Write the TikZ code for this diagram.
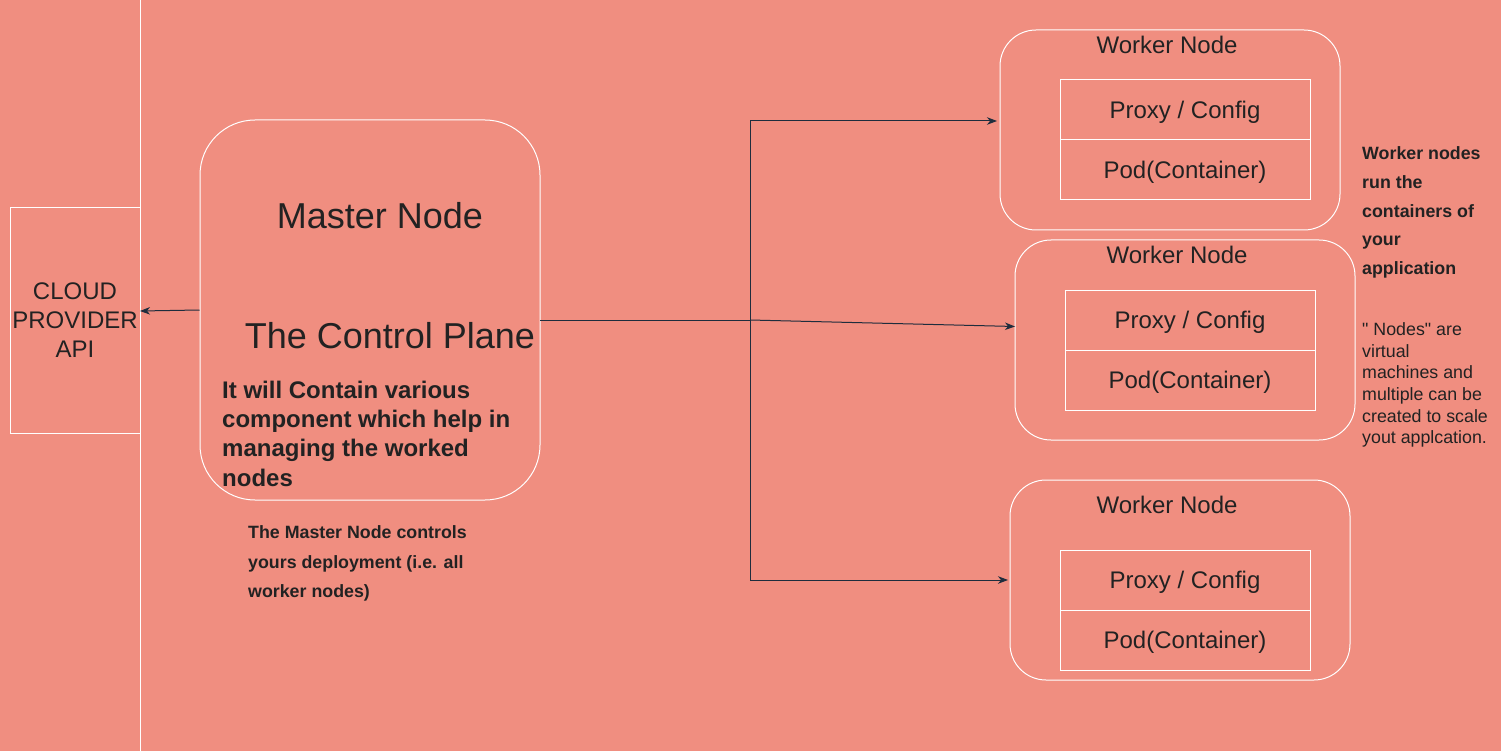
\documentclass[tikz,border=0pt]{standalone}
\usepackage{fontspec}
\setmainfont[Ligatures=TeXOff]{Liberation Sans}
\usetikzlibrary{arrows.meta}
\definecolor{bg}{HTML}{F08E80}
\definecolor{txt}{HTML}{222222}
\definecolor{conn}{HTML}{1E2D3D}
\tikzset{
  wline/.style={draw=white, line width=1pt},
  roundbox/.style={wline, rounded corners=#1, inner sep=0pt},
  roundbox/.default=40pt,
  cellbox/.style={wline, minimum width=250pt, minimum height=60pt, inner sep=0pt, text height=17.2pt, text depth=0pt, font=\fontsize{24}{29}\selectfont, text=txt},
  wlabel/.style={inner sep=0pt, font=\fontsize{24}{29}\selectfont, text=txt},
  connector/.style={draw=conn, line width=1pt, -{Stealth[length=10pt,width=7.5pt,inset=3pt]}},
  plain/.style={draw=conn, line width=1pt},
}
\begin{document}
\begin{tikzpicture}[x=1pt,y=-1pt]
\fill[bg] (0,0) rectangle (1501,751);
\useasboundingbox (0,0) rectangle (1501,751);
% divider
\draw[wline] (140,0) -- (140,751);
% cloud provider
\node[wline, minimum width=130pt, minimum height=225pt, inner sep=0pt, align=center,
      font=\fontsize{24}{29}\selectfont, text=txt] (cloud) at (75,320.5) {CLOUD\\PROVIDER\\API};
% master node
\node[roundbox=55pt, minimum width=340pt, minimum height=380pt] (master) at (370,310) {};
\node[wlabel, font=\fontsize{36}{43}\selectfont] (mtitle) at (380,216) {Master Node};
\node[wlabel, font=\fontsize{36}{43}\selectfont] (mplane) at (390,336) {The Control Plane};
\node[inner sep=0pt, anchor=north west, align=left, text=txt,
      font=\bfseries\fontsize{24}{29.2}\selectfont] (mdesc) at (222,381)
  {It will Contain various\\component which help in\\managing the worked\\nodes};
% annotation under master
\node[inner sep=0pt, anchor=north west, align=left, text=txt,
      font=\bfseries\fontsize{17.8}{29.5}\selectfont] (mnote) at (248,525.5)
  {The Master Node controls\\yours deployment (i.e. all\\worker nodes)};
% worker 1
\node[roundbox=36pt, minimum width=340pt, minimum height=200pt] (w1) at (1170,130) {};
\node[wlabel] (w1t) at (1167,45) {Worker Node};
\node[cellbox] (w1p) at (1185,110) {Proxy / Config};
\node[cellbox] (w1c) at (1185,170) {Pod(Container)};
% worker 2
\node[roundbox=36pt, minimum width=340pt, minimum height=200pt] (w2) at (1185,340) {};
\node[wlabel] (w2t) at (1177,255) {Worker Node};
\node[cellbox] (w2p) at (1190,320) {Proxy / Config};
\node[cellbox] (w2c) at (1190,380) {Pod(Container)};
% worker 3
\node[roundbox=36pt, minimum width=340pt, minimum height=200pt] (w3) at (1180,580) {};
\node[wlabel] (w3t) at (1167,505) {Worker Node};
\node[cellbox] (w3p) at (1185,580) {Proxy / Config};
\node[cellbox] (w3c) at (1185,640) {Pod(Container)};
% right annotations
\node[inner sep=0pt, anchor=north west, align=left, text=txt,
      font=\bfseries\fontsize{17.8}{28.8}\selectfont] (wnote) at (1362,146.5)
  {Worker nodes\\run the\\containers of\\your\\application};
\node[inner sep=0pt, anchor=north west, align=left, text=txt,
      font=\fontsize{17.8}{21.6}\selectfont] (vnote) at (1362,322.5)
  {" Nodes" are\\virtual\\machines and\\multiple can be\\created to scale\\yout applcation.};
% connectors
\coordinate (mout) at (540,320);
\coordinate (junc) at (750,320);
\coordinate (w1in) at (997,121);
\coordinate (w2in) at (1015,326.5);
\coordinate (w3in) at (1008,580);
\coordinate (cin) at (140,311);
\draw[connector] (master.west) -- (cin);
\draw[plain] (mout) -- (junc);
\draw[connector] (junc) |- (w1in);
\draw[connector] (junc) -- (w2in);
\draw[connector] (junc) |- (w3in);
\end{tikzpicture}
\end{document}
